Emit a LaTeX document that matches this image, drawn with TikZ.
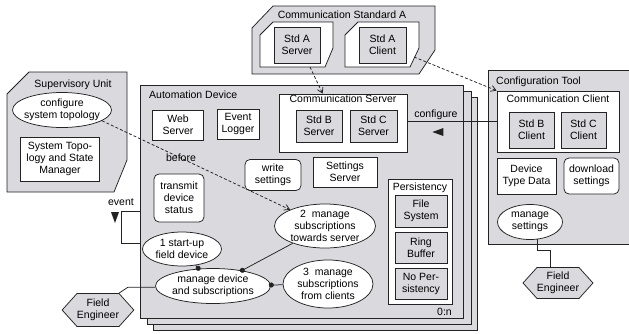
\documentclass[tikz,border=0pt]{standalone}
\usepackage{fontspec}
\setmainfont{Liberation Sans}
\usepackage{tikz}
\usetikzlibrary{shapes, arrows.meta, positioning, calc}

\definecolor{unitGray}{RGB}{217,217,222}
\definecolor{lineDark}{RGB}{35,35,35}

\begin{document}
\begin{tikzpicture}[
        x=1pt, y=-1pt,
        font=\fontsize{10.5}{12}\selectfont,
        >=Latex,
        % styles
        baseBlock/.style={rectangle, draw=lineDark, line width=0.75pt, align=center, inner sep=0pt},
        % component styles
        styleWhite/.style={baseBlock, fill=white},
        styleGray/.style={baseBlock, fill=unitGray},
        styleRound/.style={baseBlock, fill=white, rounded corners=5pt},
        styleCase/.style={ellipse, draw=lineDark, line width=0.75pt, fill=white, align=center, inner sep=-3pt},
        styleActor/.style={signal, signal to=west and east, signal pointer angle=96, draw=lineDark, line width=0.75pt, fill=unitGray, align=center, inner sep=0pt},
        % container styles
        container/.style={draw=lineDark, line width=0.75pt, fill=unitGray, inner sep=0pt},
        cntWhite/.style={draw=lineDark, line width=0.75pt, fill=white},
        % label styles
        boxTitle/.style={inner sep=0pt, text height=8pt, text depth=2pt},
        arrowLbl/.style={inner sep=1pt},
        conn/.style={draw=lineDark, line width=0.75pt},
        dotConn/.style={conn, -{Circle[length=5pt]}, shorten >=-2pt},
        depConn/.style={conn, dash pattern=on 3pt off 2pt, -{Straight Barb[length=5pt, width=6pt]}}
    ]

    \useasboundingbox (0,0) rectangle (629,333);

    % containers

    % supervisory unit
    \draw [container] (7,94) -- (29,72) -- (127,72) -- (127,160) -- (114,192) -- (7,192) -- cycle;
    \node [boxTitle] (supTitle) at (73,84) {Supervisory Unit};

    % communication standard A
    \draw [container] (252,28) -- (273,6) -- (435,6) -- (435,50) -- (419,74) -- (252,74) -- cycle;
    \draw [cntWhite] (260,35) -- (273,22) -- (333,22) -- (333,48) -- (325,67) -- (260,67) -- cycle;
    \draw [cntWhite] (345,35) -- (358,22) -- (419,22) -- (419,48) -- (410,67) -- (345,67) -- cycle;
    \coordinate (aSrvFoot) at (310,67);
    \coordinate (aCliFoot) at (414,57);
    \node [boxTitle] (stdTitle) at (342,15) {Communication Standard A};

    % automation device, 0:n copies
    \draw [container] (153,97) rectangle (477,330);
    \draw [container] (147,91) rectangle (471,324);
    \node [container, minimum width=323pt, minimum height=233pt] (autoDev) at (301.5,201.5) {};
    \node [boxTitle, anchor=west] (devTitle) at (149,95) {Automation Device};
    \node [boxTitle, anchor=east] (cardinality) at (452,312) {0:n};

    % configuration tool
    \node [container, minimum width=143pt, minimum height=174pt] (cfgTool) at (559.5,157) {};
    \node [boxTitle, anchor=west] (toolTitle) at (496,81) {Configuration Tool};

    % nodes

    % supervisory unit
    \node [styleCase, minimum width=99pt, minimum height=35pt] (cfgTopo) at (62,110) {configure\\system topology};
    \node [styleWhite, minimum width=79pt, minimum height=44pt] (topoMgr) at (60,159) {System Topo-\\logy and State\\Manager};

    % communication standard A
    \node [styleGray, minimum width=46pt, minimum height=36pt] (stdAServer) at (297,45) {Std A\\Server};
    \node [styleGray, minimum width=47pt, minimum height=36pt] (stdAClient) at (382.5,45) {Std A\\Client};

    % automation device
    \node [styleWhite, minimum width=51pt, minimum height=30pt] (webServer) at (178,125) {Web\\Server};
    \node [styleWhite, minimum width=42pt, minimum height=30pt] (evtLogger) at (238,124) {Event\\Logger};
    \node [styleWhite, minimum width=128pt, minimum height=58pt] (commServer) at (343,123) {};
    \node [boxTitle, below=1pt of commServer.north] (commSrvTitle) {Communication Server};
    \node [styleGray, minimum width=46pt, minimum height=32pt] (stdBServer) at (319,126) {Std B\\Server};
    \node [styleGray, minimum width=47pt, minimum height=32pt] (stdCServer) at (373.5,126) {Std C\\Server};
    \node [styleRound, minimum width=56pt, minimum height=31pt] (writeSet) at (273,175) {write\\settings};
    \node [styleWhite, minimum width=64pt, minimum height=30pt] (setServer) at (345,172) {Settings\\Server};
    \node [styleRound, minimum width=50pt, minimum height=48pt] (txStatus) at (179,198) {transmit\\device\\status};
    \node [styleCase, minimum width=79pt, minimum height=34pt] (startUp) at (182,249) {1 start-up\\field device};
    \node [styleCase, minimum width=115pt, minimum height=35pt] (manageDev) at (213,286) {manage device\\and subscriptions};
    \node [styleCase, minimum width=101pt, minimum height=44pt] (subsServer) at (325,226) {2\ \ manage\\subscriptions\\towards server};
    \node [styleCase, minimum width=90pt, minimum height=48pt] (subsClients) at (328,284) {3\ \ manage\\subscriptions\\from clients};

    % persistency
    \node [styleWhite, minimum width=64pt, minimum height=125pt] (persist) at (420,241.5) {};
    \node [boxTitle, below=4pt of persist.north] (persTitle) {Persistency};
    \node [styleGray, minimum width=52pt, minimum height=32pt] (fileSys) at (421,211) {File\\System};
    \node [styleGray, minimum width=52pt, minimum height=31pt, below=4.5pt of fileSys] (ringBuf) {Ring\\Buffer};
    \node [styleGray, minimum width=52pt, minimum height=31pt, below=4.5pt of ringBuf] (noPers) {No Per-\\sistency};

    % configuration tool
    \node [styleWhite, minimum width=122pt, minimum height=61pt] (commClient) at (558,121.5) {};
    \node [boxTitle, below=4pt of commClient.north] (commCliTitle) {Communication Client};
    \node [styleGray, minimum width=45pt, minimum height=36pt] (stdBClient) at (531.5,130) {Std B\\Client};
    \node [styleGray, minimum width=45pt, minimum height=36pt] (stdCClient) at (583.5,130) {Std C\\Client};
    \node [styleWhite, minimum width=59pt, minimum height=36pt] (devType) at (526.5,176) {Device\\Type Data};
    \node [styleRound, minimum width=55pt, minimum height=36pt] (dlSettings) at (591.5,176) {download\\settings};
    \node [styleCase, minimum width=65pt, minimum height=35pt] (manageSet) at (530,222) {manage\\settings};

    % actors
    \node [styleActor, minimum width=68pt, minimum height=31pt] (feRight) at (558,283) {Field\\Engineer};
    \node [styleActor, minimum width=66pt, minimum height=33pt] (feLeft) at (98,310) {Field\\Engineer};

    % connections

    % dependencies
    \draw [depConn] (aSrvFoot) -- ([xshift=44pt]commServer.north west);
    \draw [depConn] (aCliFoot) -- (commClient.north west);
    \draw [depConn] (cfgTopo.-15) -- node[arrowLbl, pos=0.42] (lblBefore) {before} (subsServer.155);

    % configure
    \draw [conn] (commClient.west) -- node[arrowLbl, above, pos=0.68] (lblCfg) {configure} coordinate[pos=0.72] (cfgMark) (commClient.west -| commServer.east);
    \fill [lineDark] ([yshift=-10.5pt]cfgMark) -- ++(11,-4) -- ++(0,8) -- cycle;

    % event
    \coordinate (evtTop) at (autoDev.west |- 0,211);
    \coordinate (evtBot) at (autoDev.west |- 0,243);
    \draw [conn] (evtTop) -- ++(-18,0) |- (evtBot);
    \node [arrowLbl] (lblEvent) at (121,202) {event};
    \fill [lineDark] (111,212) -- (119,212) -- (115,223) -- cycle;

    % use case links
    \draw [dotConn] (startUp) -- (manageDev);
    \draw [dotConn] (subsServer) -- (manageDev);
    \draw [dotConn] (subsClients) -- (manageDev);

    % actors
    \draw [conn] ([xshift=21pt]feLeft.north) -- ++(9,-6) coordinate (feBend) -- (feBend -| manageDev.west);
    \draw [conn] (manageSet.-67) -- ++(0,11) -| ([xshift=-8pt]feRight.north);

\end{tikzpicture}
\end{document}
